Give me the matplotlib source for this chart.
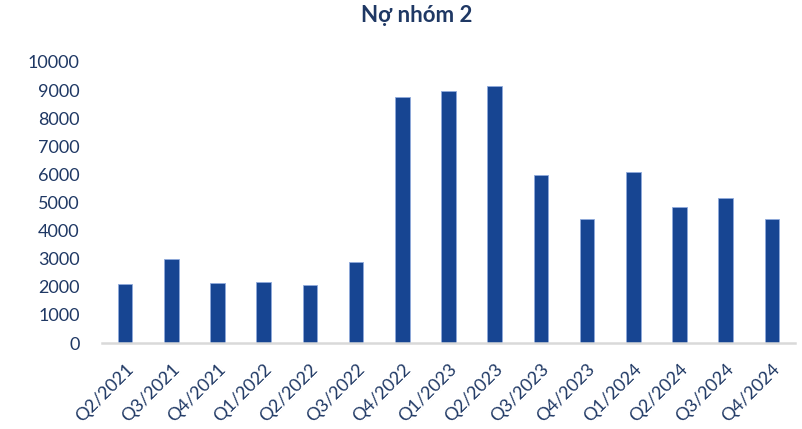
import matplotlib
matplotlib.use("Agg")
import matplotlib.pyplot as plt

quarters = ["Q2/2021", "Q3/2021", "Q4/2021", "Q1/2022", "Q2/2022", "Q3/2022",
            "Q4/2022", "Q1/2023", "Q2/2023", "Q3/2023", "Q4/2023", "Q1/2024",
            "Q2/2024", "Q3/2024", "Q4/2024"]
values = [2100, 3000, 2130, 2170, 2050, 2880, 8750, 8960, 9160,
          5970, 4430, 6080, 4850, 5160, 4430]
yticks = [0, 1000, 2000, 3000, 4000, 5000, 6000, 7000, 8000, 9000, 10000]

text_color = "#1F3864"
bar_color = "#174592"

plt.rcParams["font.family"] = ["Lato", "DejaVu Sans"]

fig = plt.figure(figsize=(8.02, 4.29), dpi=100)
ax = fig.add_axes([102 / 802, 1 - 343 / 429, 693 / 802, (343 - 62) / 429])

x = list(range(len(quarters)))
ax.bar(x, values, width=0.32, color=bar_color, edgecolor="#8FAADC", linewidth=0.6)

ax.set_xlim(-0.5, len(quarters) - 0.5)
ax.set_ylim(0, 10000)
ax.set_yticks(yticks)
ax.set_yticklabels([str(v) for v in yticks], fontsize=13, color=text_color)
ax.set_xticks(x)
ax.set_xticklabels(quarters, rotation=45, ha="right", rotation_mode="anchor",
                   fontsize=13, color=text_color)
ax.tick_params(axis="both", length=0)
ax.tick_params(axis="y", pad=16)
ax.tick_params(axis="x", pad=13)

for side in ["top", "right", "left"]:
    ax.spines[side].set_visible(False)
ax.spines["bottom"].set_color("#D9D9D9")
ax.spines["bottom"].set_linewidth(1.8)

fig.text(417 / 802, 1 - 15 / 429, "Nợ nhóm 2", ha="center", va="center",
         fontsize=16, fontweight="bold", color=text_color)

fig.savefig("out.png", dpi=100)
